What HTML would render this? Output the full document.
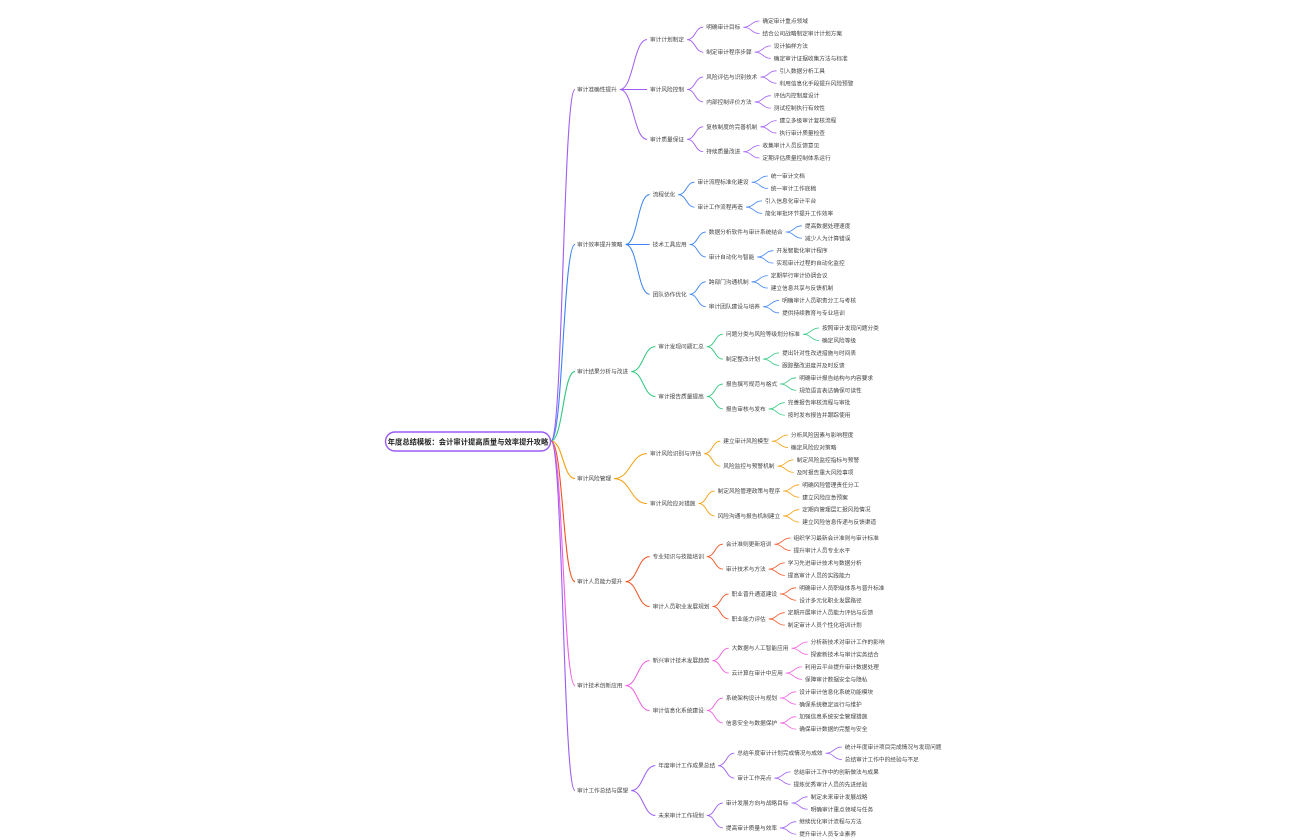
<!DOCTYPE html>
<html><head><meta charset="utf-8">
<style>
html,body{margin:0;padding:0;background:#fff;width:1296px;height:840px;overflow:hidden}
svg text{font-family:"Liberation Sans","Noto Sans CJK SC",sans-serif;fill:#444}
</style></head>
<body>
<svg id="s" width="1296" height="840" xmlns="http://www.w3.org/2000/svg">
<rect x="385.5" y="432" width="165" height="19" rx="9.5" fill="#fff" stroke="#9b5cf6" stroke-width="1.4"/>
<text x="468" y="444.5" text-anchor="middle" font-size="7.3" font-weight="bold" style="fill:#222">年度总结模板：会计审计提高质量与效率提升攻略</text>
</svg>
<script>
var D=[
["审计准确性提升","#a05cf6",21,[
 ["审计计划制定",[["明确审计目标",["确定审计重点领域","结合公司战略制定审计计划方案"]],["制定审计程序步骤",["设计抽样方法","确定审计证据收集方法与标准"]]]],
 ["审计风险控制",[["风险评估与识别技术",["引入数据分析工具","利用信息化手段提升风险预警"]],["内部控制评价方法",["评估内控制度设计","测试控制执行有效性"]]]],
 ["审计质量保证",[["复核制度的完善机制",["建立多级审计复核流程","执行审计质量检查"]],["持续质量改进",["收集审计人员反馈意见","定期评估质量控制体系运行"]]]]]],
["审计效率提升策略","#3b82f6",176,[
 ["流程优化",[["审计流程标准化建设",["统一审计文档","统一审计工作底稿"]],["审计工作流程再造",["引入信息化审计平台","简化审批环节提升工作效率"]]]],
 ["技术工具应用",[["数据分析软件与审计系统结合",["提高数据处理速度","减少人为计算错误"]],["审计自动化与智能",["开发智能化审计程序","实现审计过程的自动化监控"]]]],
 ["团队协作优化",[["跨部门沟通机制",["定期举行审计协调会议","建立信息共享与反馈机制"]],["审计团队建设与培养",["明确审计人员职责分工与考核","提供持续教育与专业培训"]]]]]],
["审计结果分析与改进","#2ec77d",328,[
 ["审计发现问题汇总",[["问题分类与风险等级划分标准",["按照审计发现问题分类","确定风险等级"]],["制定整改计划",["提出针对性改进措施与时间表","跟踪整改进度并及时反馈"]]]],
 ["审计报告质量提高",[["报告撰写规范与格式",["明确审计报告结构与内容要求","规范语言表达确保可读性"]],["报告审核与发布",["完善报告审核流程与审批","按时发布报告并跟踪使用"]]]]]],
["审计风险管理","#f59e0b",435,[
 ["审计风险识别与评估",[["建立审计风险模型",["分析风险因素与影响程度","确定风险应对策略"]],["风险监控与预警机制",["制定风险监控指标与预警","及时报告重大风险事项"]]]],
 ["审计风险应对措施",[["制定风险管理政策与程序",["明确风险管理责任分工","建立风险应急预案"]],["风险沟通与报告机制建立",["定期向管理层汇报风险情况","建立风险信息传递与反馈渠道"]]]]]],
["审计人员能力提升","#f4511e",538,[
 ["专业知识与技能培训",[["会计准则更新培训",["组织学习最新会计准则与审计标准","提升审计人员专业水平"]],["审计技术与方法",["学习先进审计技术与数据分析","提高审计人员的实践能力"]]]],
 ["审计人员职业发展规划",[["职业晋升通道建设",["明确审计人员职级体系与晋升标准","设计多元化职业发展路径"]],["职业能力评估",["定期开展审计人员能力评估与反馈","制定审计人员个性化培训计划"]]]]]],
["审计技术创新应用","#f25ce0",642,[
 ["新兴审计技术发展趋势",[["大数据与人工智能应用",["分析新技术对审计工作的影响","探索新技术与审计实务结合"]],["云计算在审计中应用",["利用云平台提升审计数据处理","保障审计数据安全与隐私"]]]],
 ["审计信息化系统建设",[["系统架构设计与规划",["设计审计信息化系统功能模块","确保系统稳定运行与维护"]],["信息安全与数据保护",["加强信息系统安全管理措施","确保审计数据的完整与安全"]]]]]],
["审计工作总结与展望","#9b5cf6",747,[
 ["年度审计工作成果总结",[["总结年度审计计划完成情况与成效",["统计年度审计项目完成情况与发现问题","总结审计工作中的经验与不足"]],["审计工作亮点",["总结审计工作中的创新做法与成果","提炼优秀审计人员的先进经验"]]]],
 ["未来审计工作规划",[["审计发展方向与战略目标",["制定未来审计发展战略","明确审计重点领域与任务"]],["提高审计质量与效率",["继续优化审计流程与方法","提升审计人员专业素养"]]]]]]
];
var s=document.getElementById('s'),NS='http://www.w3.org/2000/svg',CW=5.7,FS=5.7;
function T(x,y,t){var e=document.createElementNS(NS,'text');e.setAttribute('x',x);e.setAttribute('y',y+2);e.setAttribute('font-size',FS);e.textContent=t;s.appendChild(e);return x+t.length*CW;}
function C(x1,y1,x2,y2,c,w){var e=document.createElementNS(NS,'path');var m=(x1+x2)/2;e.setAttribute('d','M'+x1+','+y1+' C'+m+','+y1+' '+m+','+y2+' '+x2+','+y2);e.setAttribute('fill','none');e.setAttribute('stroke',c);e.setAttribute('stroke-width',w);s.appendChild(e);}
D.forEach(function(sec){
 var c=sec[1],y=sec[2],st=12.45;
 var L2=sec[3].map(function(l2){
  var l3s=l2[1].map(function(l3){var ys=l3[1].map(function(){var v=y;y+=st;return v;});return {t:l3[0],y:(ys[0]+ys[1])/2,k:l3[1],ys:ys};});
  return {t:l2[0],y:l3s.reduce(function(a,b){return a+b.y},0)/l3s.length,k:l3s};
 });
 var y1=L2.reduce(function(a,b){return a+b.y},0)/L2.length;
 C(551,441,575,y1,c,1.1);
 var e1=T(577,y1,sec[0]);
 var x2=Math.max(e1+30,650);
 L2.forEach(function(n2){
  C(e1+3,y1,x2-3,n2.y,c,1);
  var e2=T(x2,n2.y,n2.t);
  var x3=e2+22;
  n2.k.forEach(function(n3){
   C(e2+3,n2.y,x3-3,n3.y,c,0.9);
   var e3=T(x3,n3.y,n3.t);
   var x4=e3+22;
   n3.k.forEach(function(t4,i){C(e3+3,n3.y,x4-3,n3.ys[i],c,0.8);T(x4,n3.ys[i],t4);});
  });
 });
});
</script>
</body></html>
